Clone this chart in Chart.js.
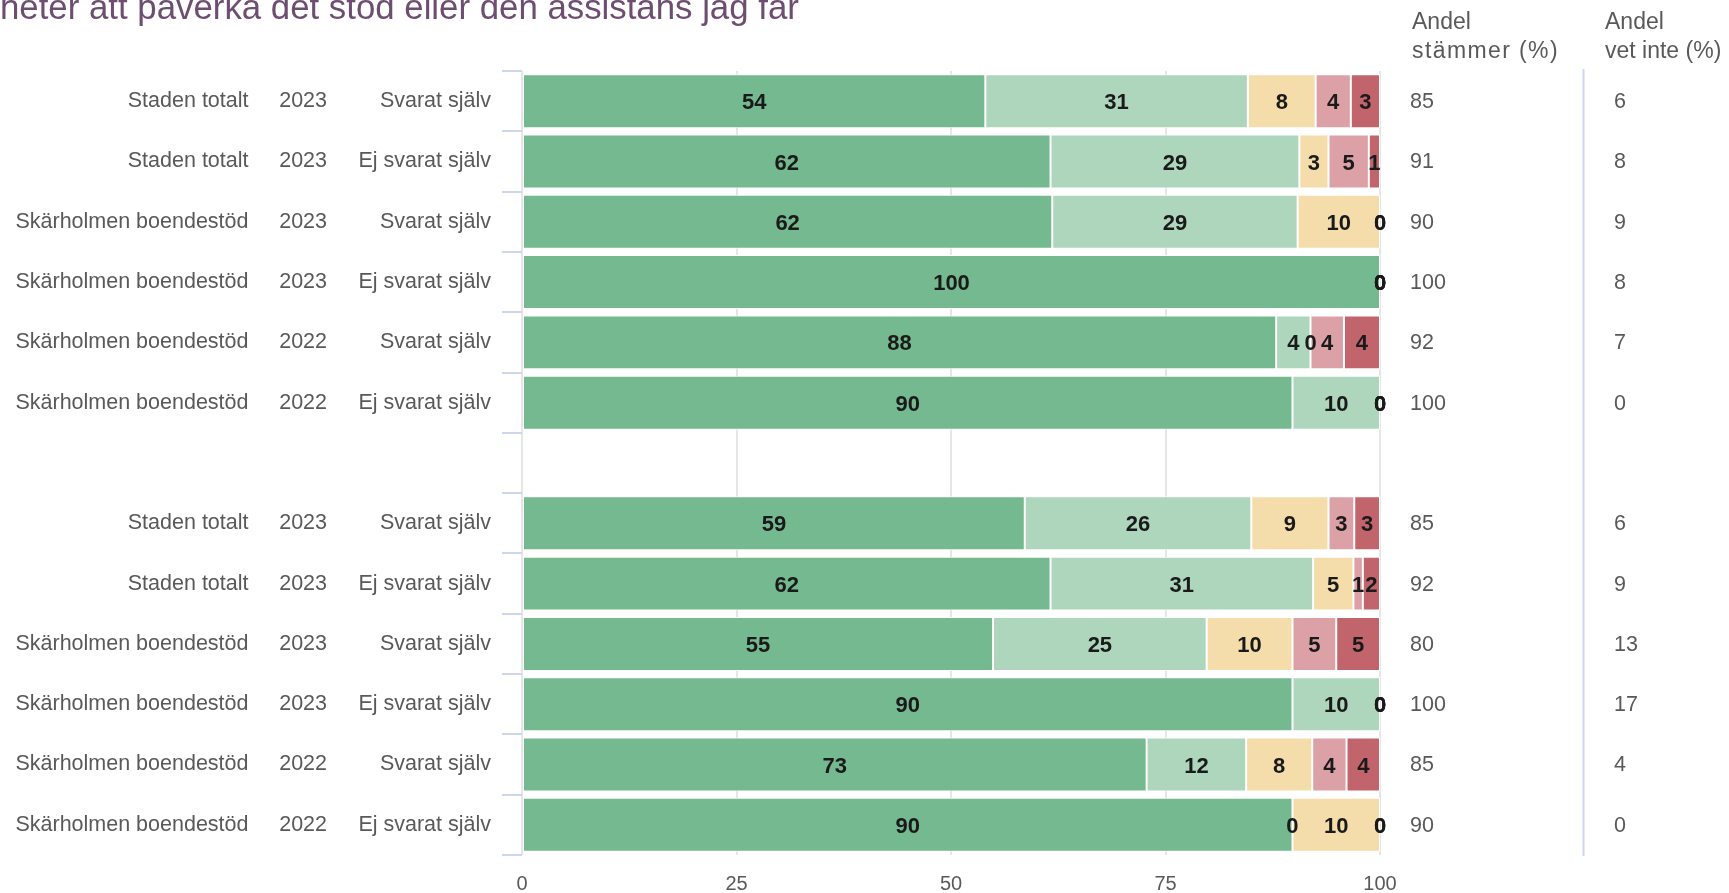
<!DOCTYPE html>
<html lang="sv">
<head>
<meta charset="utf-8">
<title>Andel stämmer</title>
<script src="https://cdn.jsdelivr.net/npm/chart.js@4.4.1/dist/chart.umd.min.js"></script>
<style>
  html, body { margin: 0; padding: 0; background: #fff; }
  #wrap { width: 1729px; height: 893px; }
</style>
</head>
<body>
<div id="wrap"><canvas id="chart" width="1729" height="893"></canvas></div>
<script>
const title = 'heter att påverka det stöd eller den assistans jag får'

// rows top to bottom, the empty slot splits the two blocks
const units = ['Staden totalt', 'Staden totalt', 'Skärholmen boendestöd', 'Skärholmen boendestöd', 'Skärholmen boendestöd', 'Skärholmen boendestöd', '',
  'Staden totalt', 'Staden totalt', 'Skärholmen boendestöd', 'Skärholmen boendestöd', 'Skärholmen boendestöd', 'Skärholmen boendestöd']
const years = ['2023', '2023', '2023', '2023', '2022', '2022', '', '2023', '2023', '2023', '2023', '2022', '2022']
const respondents = ['Svarat själv', 'Ej svarat själv', 'Svarat själv', 'Ej svarat själv', 'Svarat själv', 'Ej svarat själv', '',
  'Svarat själv', 'Ej svarat själv', 'Svarat själv', 'Ej svarat själv', 'Svarat själv', 'Ej svarat själv']

const seriesNames = ['Stämmer helt och hållet', 'Stämmer ganska bra', 'Stämmer varken bra eller dåligt', 'Stämmer ganska dåligt', 'Stämmer inte alls']
const seriesColors = ['#74b98f', '#aed6bc', '#f4ddaa', '#dca1a7', '#c1646c']

// andel i procent per rad (läst från staplarna)
const helt    = [54.0, 61.6, 61.8, 100, 87.9, 89.8, null, 58.6, 61.6, 54.9, 89.8, 72.8, 89.8]
const ganska  = [30.6, 29.0, 28.6, 0, 4.0, 10.2, null, 26.4, 30.6, 24.9, 10.2, 11.6, 0]
const varken  = [7.9, 3.4, 9.6, 0, 0, 0, null, 9.0, 4.7, 10.0, 0, 7.7, 10.2]
const daligt  = [4.1, 4.7, 0, 0, 3.9, 0, null, 3.0, 1.1, 5.1, 0, 4.0, 0]
const inteAls = [3.4, 1.3, 0, 0, 4.2, 0, null, 3.0, 2.0, 5.1, 0, 3.9, 0]

const stammer = [85, 91, 90, 100, 92, 100, null, 85, 92, 80, 100, 85, 90]
const vetInte = [6, 8, 9, 8, 7, 0, null, 6, 9, 13, 17, 4, 0]

const xTicks = [0, 25, 50, 75, 100]

const FONT = '"Liberation Sans", Arial, sans-serif'
const GREY = '#595959'

Chart.defaults.font.family = FONT

// siffrorna mitt i varje segment
const segmentLabels = {
  id: 'segmentLabels',
  afterDatasetsDraw(chart) {
    const ctx = chart.ctx
    ctx.save()
    ctx.font = 'bold 22px ' + FONT
    ctx.fillStyle = '#1a1a1a'
    ctx.textAlign = 'center'
    ctx.textBaseline = 'middle'
    chart.data.datasets.forEach((ds, di) => {
      chart.getDatasetMeta(di).data.forEach((bar, i) => {
        const v = ds.data[i]
        if (v === null || v === undefined) return
        const p = bar.getProps(['x', 'y', 'base'], true)
        ctx.fillText(Math.round(v), (p.x + p.base) / 2, p.y + 2)
      })
    })
    ctx.restore()
  }
}

// rubrik, extra etikettkolumner och tabellen till höger
const sideText = {
  id: 'sideText',
  afterDraw(chart) {
    const ctx = chart.ctx
    const yScale = chart.scales.y
    const area = chart.chartArea
    ctx.save()

    ctx.fillStyle = '#6d4d70'
    ctx.font = '34.8px ' + FONT
    ctx.textAlign = 'left'
    ctx.textBaseline = 'alphabetic'
    ctx.fillText(title, 0, 19)

    ctx.strokeStyle = '#cdd7ef'
    ctx.lineWidth = 2
    ctx.beginPath()
    ctx.moveTo(1583.5, area.top - 2)
    ctx.lineTo(1583.5, area.bottom + 1)
    ctx.stroke()

    ctx.fillStyle = GREY
    ctx.font = '23px ' + FONT
    ctx.fillText('Andel', 1412, 28.5)
    ctx.fillText('Andel', 1605, 28.5)
    ctx.fillText('vet inte (%)', 1605, 58)
    ctx.letterSpacing = '1.4px'
    ctx.fillText('stämmer (%)', 1412, 58)
    ctx.letterSpacing = '0px'

    ctx.font = '21.5px ' + FONT
    ctx.textBaseline = 'middle'
    units.forEach((u, i) => {
      const y = yScale.getPixelForTick(i)
      ctx.textAlign = 'right'
      ctx.fillText(u, 248.5, y)
      ctx.fillText(years[i], 327, y)
      if (stammer[i] === null) return
      ctx.textAlign = 'left'
      ctx.fillText(stammer[i], 1410, y + 1)
      ctx.fillText(vetInte[i], 1614, y + 1)
    })
    ctx.restore()
  }
}

const values = [helt, ganska, varken, daligt, inteAls]

new Chart(document.getElementById('chart'), {
  type: 'bar',
  data: {
    labels: respondents,
    datasets: values.map((data, k) => ({
      label: seriesNames[k],
      data: data,
      backgroundColor: seriesColors[k],
      borderColor: '#ffffff',
      borderWidth: 1,
      borderSkipped: false,
      barPercentage: 0.895,
      categoryPercentage: 1
    }))
  },
  options: {
    indexAxis: 'y',
    responsive: false,
    animation: false,
    events: [],
    layout: { padding: { top: 71, right: 349, left: 0, bottom: 0 } },
    plugins: {
      legend: { display: false },
      tooltip: { enabled: false },
      title: { display: false }
    },
    scales: {
      x: {
        stacked: true,
        min: 0,
        max: 100,
        afterBuildTicks: (scale) => { scale.ticks = xTicks.map(v => ({ value: v })) },
        afterFit: (scale) => { scale.height = 38 },
        ticks: { color: GREY, padding: 20, font: { size: 20, lineHeight: 0.9 } },
        grid: { color: '#e6e6e6', lineWidth: 2, drawTicks: false },
        border: { display: false }
      },
      y: {
        stacked: true,
        afterFit: (scale) => { scale.width = 522 },
        ticks: { color: GREY, padding: 11, autoSkip: false, font: { size: 21.5 } },
        grid: { drawOnChartArea: false, tickLength: 20, color: '#cdd6ed', lineWidth: 2, offset: true },
        border: { display: false }
      }
    }
  },
  plugins: [segmentLabels, sideText]
})
</script>
</body>
</html>
